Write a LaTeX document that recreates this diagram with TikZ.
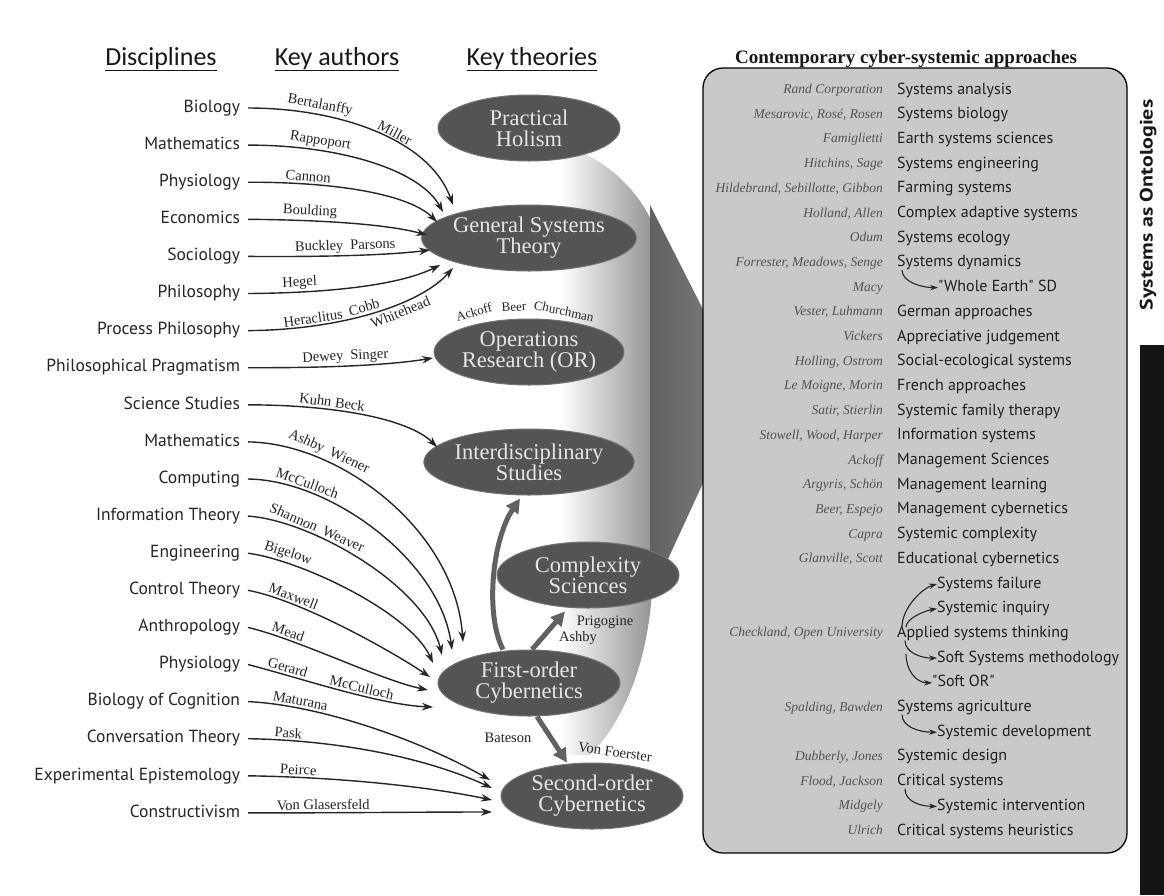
\documentclass[tikz,border=0pt]{standalone}
\usepackage{fontspec}
\setmainfont{Liberation Serif}
\newfontfamily\dfont{PT Sans}
\newfontfamily\hfont{Carlito}
\usetikzlibrary{arrows.meta,shapes.geometric}
\begin{document}
\begin{tikzpicture}[x=1pt,y=-1pt,
  disc/.style={anchor=east,inner sep=0pt,outer sep=8pt,text height=12pt,text depth=3.5pt,font=\dfont\fontsize{17.5}{20}\selectfont,text=black!85},
  hdr/.style={anchor=base,inner sep=0pt,font=\hfont\fontsize{26}{30}\selectfont,text=black!90},
  lab/.style={inner sep=0pt,font=\fontsize{14.5}{16}\selectfont,text=black!85},
  slab/.style={inner sep=0pt,font=\fontsize{13}{15}\selectfont,text=black!85},
  theory/.style={ellipse,fill=black!67,draw=black!55,line width=1pt,minimum width=182pt,minimum height=66pt,inner sep=0pt,align=center,text=white!90!black,font=\fontsize{22.5}{21}\selectfont},
  conn/.style={-{Stealth[length=11pt,width=7.5pt]},line width=1.4pt,black!85},
  bigarrow/.style={-{Triangle[length=14pt,width=14pt]},line width=5pt,black!62},
  theme/.style={anchor=west,inner sep=0pt,text height=11pt,text depth=3pt,font=\dfont\fontsize{16}{18}\selectfont,text=black!88},
  who/.style={anchor=east,inner sep=0pt,text height=10pt,text depth=3pt,font=\itshape\fontsize{13.5}{15}\selectfont,text=black!68},
  sconn/.style={-{Stealth[length=8pt,width=5.5pt]},line width=1.1pt,black!85}
]
\useasboundingbox (0,0) rectangle (1164,895);
\fill[white] (0,0) rectangle (1164,895);

% big shaded arrow behind the theories: shaft, then head
\shade[left color=white,right color=black!42] (560,145) .. controls (600,155) and (635,185) .. (652,222) -- (652,590) .. controls (648,660) and (625,720) .. (590,755) -- (560,755) -- cycle;
\shade[left color=black!62,right color=black!48] (650,205) -- (745,392) -- (650,598) -- cycle;

% headers
\node[hdr] (h1) at (161,65) {\underline{Disciplines}};
\node[hdr] (h2) at (337,65) {\underline{Key authors}};
\node[hdr] (h3) at (532,65) {\underline{Key theories}};

% theories
\node[theory] (ph)  at (529,128) {Practical\\Holism};
\node[theory] (gst) at (529,238) {General Systems\\Theory};
\node[theory] (or)  at (529,352) {Operations\\Research (OR)};
\node[theory] (ids) at (529,462) {Interdisciplinary\\Studies};
\node[theory] (cs)  at (588,575) {Complexity\\Sciences};
\node[theory] (foc) at (529,683) {First-order\\Cybernetics};
\node[theory] (soc) at (592,796) {Second-order\\Cybernetics};

% disciplines
\foreach \t [count=\i] in {Biology,Mathematics,Physiology,Economics,Sociology,Philosophy,Process Philosophy,Philosophical Pragmatism,Science Studies,Mathematics,Computing,Information Theory,Engineering,Control Theory,Anthropology,Physiology,Biology of Cognition,Conversation Theory,Experimental Epistemology,Constructivism}
  \node[disc] (d\i) at (248,{108+37.1*(\i-1)}) {\t};

% arrow ends
\coordinate (g1) at (453,205); \coordinate (g2) at (443,212); \coordinate (g3) at (437,222);
\coordinate (g4) at (427,235); \coordinate (g5) at (430,250); \coordinate (g6) at (440,265);
\coordinate (g7) at (453,268); \coordinate (o8) at (433,358); \coordinate (i9) at (437,447);
\coordinate (f10) at (463,642); \coordinate (f11) at (452,650); \coordinate (f12) at (442,655);
\coordinate (f13) at (433,663); \coordinate (f14) at (430,677); \coordinate (f15) at (428,690);
\coordinate (f16) at (433,707); \coordinate (s17) at (490,780); \coordinate (s18) at (492,788);
\coordinate (s19) at (492,800); \coordinate (s20) at (492,812);

% connectors with author labels
\draw[conn] (d1.east) .. controls (340,108) and (430,140) .. (g1)
  node[lab,sloped,above=2pt,pos=.26]{Bertalanffy} node[lab,sloped,above=2pt,pos=.57]{Miller};
\draw[conn] (d2.east) .. controls (340,145) and (420,170) .. (g2)
  node[lab,sloped,above=2pt,pos=.27]{Rappoport};
\draw[conn] (d3.east) .. controls (340,182) and (410,195) .. (g3)
  node[lab,sloped,above=2pt,pos=.23]{Cannon};
\draw[conn] (d4.east) .. controls (330,220) and (390,225) .. (g4)
  node[lab,sloped,above=2pt,pos=.27]{Boulding};
\draw[conn] (d5.east) .. controls (330,257) and (390,255) .. (g5)
  node[lab,sloped,above=2pt,pos=.45]{Buckley\hspace{7pt}Parsons};
\draw[conn] (d6.east) .. controls (330,293) and (400,285) .. (g6)
  node[lab,sloped,above=2pt,pos=.22]{Hegel};
\draw[conn] (d7.east) .. controls (340,330) and (420,305) .. (g7)
  node[lab,sloped,above=2pt,pos=.25]{Heraclitus} node[lab,sloped,above=2pt,pos=.47]{Cobb}
  node[lab,sloped,below=3pt,pos=.62]{Whitehead};
\draw[conn] (d8.east) .. controls (330,368) and (390,365) .. (o8)
  node[lab,sloped,above=2pt,pos=.45]{Dewey\hspace{7pt}Singer};
\draw[conn] (d9.east) .. controls (340,405) and (410,420) .. (i9)
  node[lab,sloped,above=2pt,pos=.33]{Kuhn Beck};
\draw[conn] (d10.east) .. controls (340,443) and (455,530) .. (f10)
  node[lab,sloped,above=2pt,pos=.27]{Ashby\hspace{7pt}Wiener};
\draw[conn] (d11.east) .. controls (330,480) and (440,560) .. (f11)
  node[lab,sloped,above=2pt,pos=.22]{McCulloch};
\draw[conn] (d12.east) .. controls (310,520) and (425,585) .. (f12)
  node[lab,sloped,above=2pt,pos=.3]{Shannon\hspace{7pt}Weaver};
\draw[conn] (d13.east) .. controls (300,560) and (410,612) .. (f13)
  node[lab,sloped,above=2pt,pos=.2]{Bigelow};
\draw[conn] (d14.east) .. controls (300,600) and (390,650) .. (f14)
  node[lab,sloped,above=2pt,pos=.24]{Maxwell};
\draw[conn] (d15.east) .. controls (300,640) and (380,680) .. (f15)
  node[lab,sloped,above=2pt,pos=.22]{Mead};
\draw[conn] (d16.east) .. controls (300,678) and (380,705) .. (f16)
  node[lab,sloped,above=2pt,pos=.22]{Gerard} node[lab,sloped,above=2pt,pos=.6]{McCulloch};
\draw[conn] (d17.east) .. controls (320,705) and (420,740) .. (s17)
  node[lab,sloped,above=2pt,pos=.22]{Maturana};
\draw[conn] (d18.east) .. controls (330,740) and (420,755) .. (s18)
  node[lab,sloped,above=2pt,pos=.16]{Pask};
\draw[conn] (d19.east) .. controls (330,777) and (420,785) .. (s19)
  node[lab,sloped,above=2pt,pos=.2]{Peirce};
\draw[conn] (d20.east) .. controls (330,813) and (420,812) .. (s20)
  node[lab,sloped,above=2pt,pos=.3]{Von Glasersfeld};

% labels over OR
\node[slab,rotate=16] (ack) at (474,312) {Ackoff};
\node[slab,rotate=3] (beer) at (514,307) {Beer};
\node[slab,rotate=-12] (chu) at (564,311) {Churchman};

% thick arrows from first-order cybernetics
\draw[bigarrow] ([xshift=-26pt]foc.north) .. controls (485,615) and (492,540) .. ([xshift=-9pt,yshift=-3pt]ids.south);
\draw[bigarrow] ([xshift=3pt]foc.north) -- ([xshift=-23pt,yshift=-3pt]cs.south);
\draw[bigarrow] ([xshift=8pt]foc.south) -- ([xshift=-25pt]soc.north);
\node[lab] (pri) at (605,622) {Prigogine};
\node[lab] (ash) at (578,638) {Ashby};
\node[lab] (bat) at (508,738) {Bateson};
\node[lab,rotate=-8] (vfo) at (615,752) {Von Foerster};

% right box
\node[font=\bfseries\fontsize{19}{22}\selectfont,inner sep=0pt,anchor=base,text=black!90] (ttl) at (906,63) {Contemporary cyber-systemic approaches};
\draw[line width=1.3pt,fill=gray!42,rounded corners=20pt] (703,68) rectangle (1127,853);

\foreach \t/\x [count=\i] in {{Systems analysis}/897,{Systems biology}/897,{Earth systems sciences}/897,{Systems engineering}/897,{Farming systems}/897,{Complex adaptive systems}/897,{Systems ecology}/897,{Systems dynamics}/897,{"Whole Earth" SD}/938,{German approaches}/897,{Appreciative judgement}/897,{Social-ecological systems}/897,{French approaches}/897,{Systemic family therapy}/897,{Information systems}/897,{Management Sciences}/897,{Management learning}/897,{Management cybernetics}/897,{Systemic complexity}/897,{Educational cybernetics}/897,{Systems failure}/937,{Systemic inquiry}/937,{Applied systems thinking}/897,{Soft Systems methodology}/937,{"Soft OR"}/932,{Systems agriculture}/897,{Systemic development}/937,{Systemic design}/897,{Critical systems}/897,{Systemic intervention}/937,{Critical systems heuristics}/897}
  \node[theme] (t\i) at (\x,{90+24.7*(\i-1)}) {\t};

\foreach \i/\a in {1/{Rand Corporation},2/{Mesarovic, Rosé, Rosen},3/{Famiglietti},4/{Hitchins, Sage},5/{Hildebrand, Sebillotte, Gibbon},6/{Holland, Allen},7/{Odum},8/{Forrester, Meadows, Senge},9/{Macy},10/{Vester, Luhmann},11/{Vickers},12/{Holling, Ostrom},13/{Le Moigne, Morin},14/{Satir, Stierlin},15/{Stowell, Wood, Harper},16/{Ackoff},17/{Argyris, Schön},18/{Beer, Espejo},19/{Capra},20/{Glanville, Scott},23/{Checkland, Open University},26/{Spalding, Bawden},28/{Dubberly, Jones},29/{Flood, Jackson},30/{Midgely},31/{Ulrich}}
  \node[who] (a\i) at (883,{90+24.7*(\i-1)}) {\a};

% small arrows inside the box
\draw[sconn] ([xshift=5pt]t8.south west) .. controls +(0,12) and +(-16,0) .. (t9.west);
\draw[sconn] ([xshift=5pt,yshift=-1pt]t23.north west) .. controls +(0,-20) and +(-14,4) .. (t21.west);
\draw[sconn] ([xshift=9pt,yshift=-1pt]t23.north west) .. controls +(0,-9) and +(-12,2) .. (t22.west);
\draw[sconn] ([xshift=8pt]t23.south west) .. controls +(0,12) and +(-16,0) .. (t24.west);
\draw[sconn] ([xshift=-31pt,yshift=4pt]t24.west) .. controls +(0,16) and +(-16,0) .. (t25.west);
\draw[sconn] ([xshift=5pt]t26.south west) .. controls +(0,12) and +(-18,0) .. (t27.west);
\draw[sconn] ([xshift=8pt]t29.south west) .. controls +(0,12) and +(-18,0) .. (t30.west);

% side label and bar
\node[rotate=90,inner sep=0pt,font=\dfont\bfseries\fontsize{18}{20}\selectfont,text=black!90] (ont) at (1148,205) {\scalebox{1.22}[1]{Systems as Ontologies}};
\fill[black!92] (1140,345) rectangle (1164,895);
\end{tikzpicture}
\end{document}
